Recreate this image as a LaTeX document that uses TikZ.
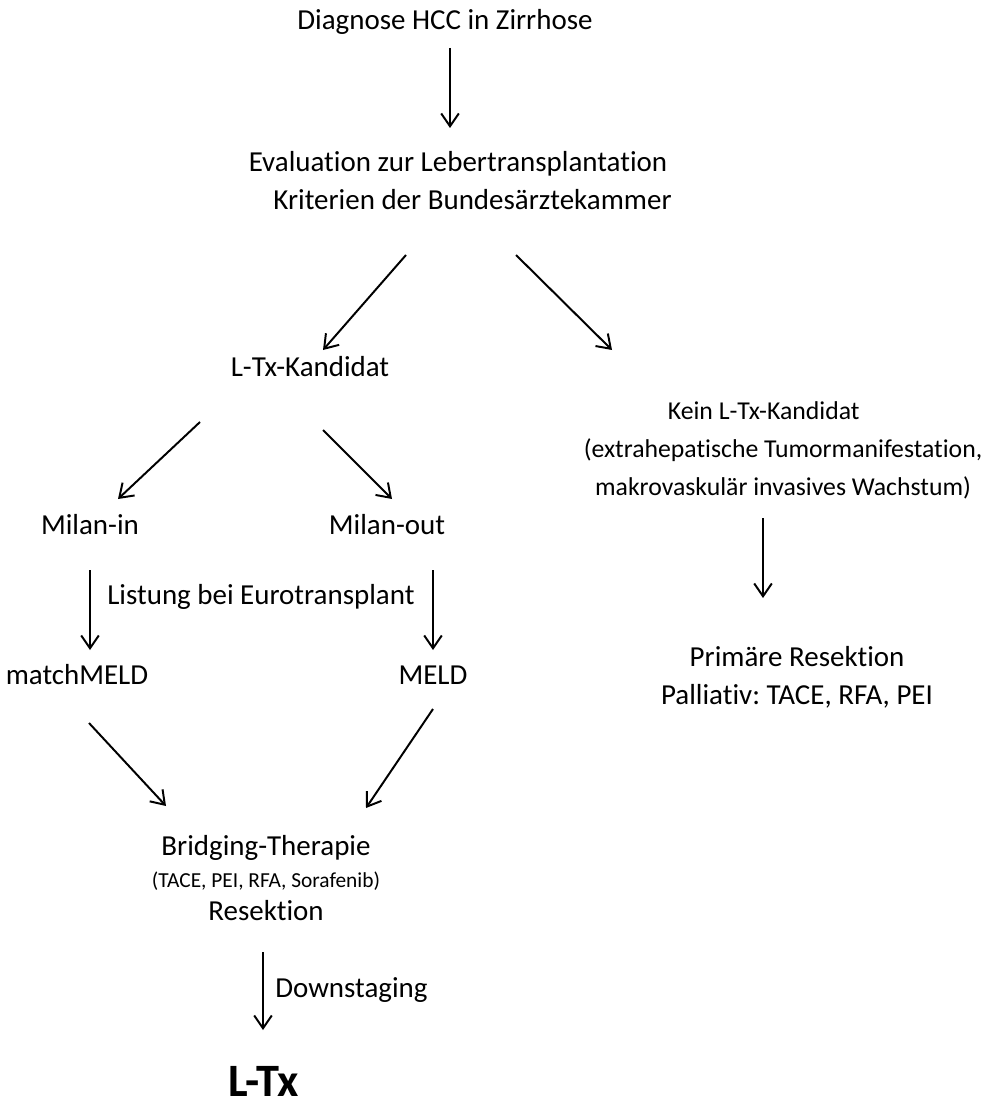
\documentclass[tikz,border=0pt]{standalone}
\usepackage{fontspec}
\setmainfont{Carlito}[Ligatures=NoCommon]
\usetikzlibrary{arrows.meta}
\tikzset{
  stufe/.style = {inner sep=0pt, align=center, font=\fontsize{20.6}{27}\selectfont\frenchspacing},
  notiz/.style = {inner sep=0pt, anchor=west, font=\fontsize{20.6}{27}\selectfont},
  ziel/.style  = {inner sep=0pt, font=\fontsize{33}{38}\selectfont\bfseries},
  pfeil/.style = {-{Straight Barb[length=3.2mm,width=4.4mm]}, line width=1.4pt},
}
\newcommand{\klein}{\fontsize{15.2}{20}\selectfont}

\begin{document}
\begin{tikzpicture}[x=0.025cm,y=-0.025cm]
\useasboundingbox (0,0) rectangle (990,1109);

% ------------------------------------------------------------------ nodes
\node[stufe] (diag) at (445,22) {Diagnose HCC in Zirrhose};
\node[stufe] (eval) at (458,181) {Evaluation zur Lebertransplantation\\\quad Kriterien der Bundesärztekammer};
\node[stufe] (ltx) at (310,367) {L-Tx-Kandidat};
\node[stufe, font=\fontsize{18.3}{27}\selectfont] (kein) at (783,450) {Kein L-Tx-Kandidat\hspace*{1.5em}\\(extrahepatische Tumormanifestation,\\makrovaskulär invasives Wachstum)};
\node[stufe] (prim) at (797,677) {Primäre Resektion\\Palliativ: TACE, RFA, PEI};
\node[stufe] (milanin) at (90,525) {Milan-in};
\node[stufe] (milanout) at (387,525) {Milan-out};
\node[notiz] (listung) at (107,597) {Listung bei Eurotransplant};
\node[stufe] (match) at (77,675) {matchMELD};
\node[stufe] (meld) at (433,675) {MELD};
\node[stufe] (bridge) at (266,878) {Bridging-Therapie\\[-4pt]{\klein (TACE, PEI, RFA, Sorafenib)}\\[-4pt]Resektion};
\node[ziel] (ende) at (264,1081) {L-Tx};
\node[notiz] (down) at (275,990) {Downstaging};

% ------------------------------------------------------------------ arrows
\draw[pfeil] ([shift={(5,26)}]diag.center) -- ([shift={(-8,-53)}]eval.center);
\draw[pfeil] ([shift={(-52,74)}]eval.center) -- ([shift={(13,-17)}]ltx.center);
\draw[pfeil] ([shift={(58,74)}]eval.center) -- ([shift={(-171,-100)}]kein.center);
\draw[pfeil] ([shift={(-110,55)}]ltx.center) -- ([shift={(28,-26)}]milanin.center);
\draw[pfeil] ([shift={(13,63)}]ltx.center) -- ([shift={(5,-26)}]milanout.center);
\draw[pfeil] ([shift={(0,45)}]milanin.center) -- ([shift={(13,-25)}]match.center);
\draw[pfeil] ([shift={(46,45)}]milanout.center) -- ([shift={(0,-25)}]meld.center);
\draw[pfeil] ([shift={(12,48)}]match.center) -- ([shift={(-100,-72)}]bridge.center);
\draw[pfeil] ([shift={(0,34)}]meld.center) -- ([shift={(100,-70)}]bridge.center);
\draw[pfeil] ([shift={(-3,74)}]bridge.center) -- ([shift={(-1,-51)}]ende.center);
\draw[pfeil] ([shift={(-20,68)}]kein.center) -- ([shift={(-34,-79)}]prim.center);

\end{tikzpicture}
\end{document}
